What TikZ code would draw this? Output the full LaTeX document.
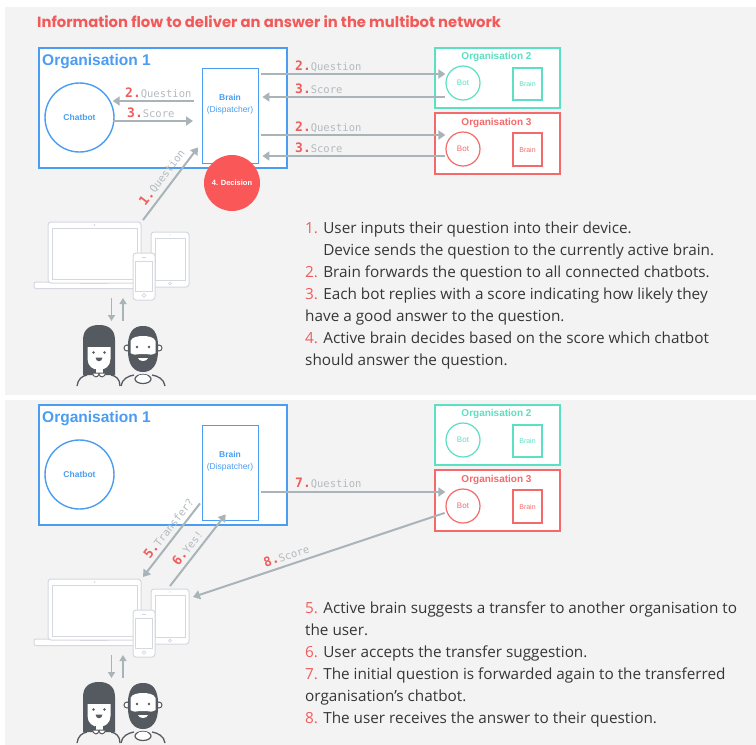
\documentclass[tikz,border=0pt]{standalone}
\usepackage{fontspec}
\setmainfont{Liberation Sans}
\newfontfamily\titlefont{Poppins}
\newfontfamily\monofont{DejaVu Sans Mono}
\newfontfamily\bodyfont{Open Sans}
\usetikzlibrary{arrows.meta,calc}

\definecolor{bgpanel}{HTML}{F3F3F3}
\definecolor{orgblue}{HTML}{4A9DF2}
\definecolor{orgteal}{HTML}{5CDFC2}
\definecolor{orgred}{HTML}{F46A6A}
\definecolor{decred}{HTML}{FA5858}
\definecolor{titlered}{HTML}{F25A5A}
\definecolor{numred}{HTML}{F05C5C}
\definecolor{flowgray}{HTML}{A9B4B9}
\definecolor{labgray}{HTML}{B3BABE}
\definecolor{devgray}{HTML}{D6D8DF}
\definecolor{persongray}{HTML}{545A5F}
\definecolor{textgray}{HTML}{363636}

% label on a flow arrow: red step number, grey monospaced message
\newcommand\flowlabel[2]{{\monofont\bfseries\fontsize{13}{14}\selectfont\color{numred}#1.}{\monofont\fontsize{10.5}{12}\selectfont\color{labgray}#2}}
\newcommand\rednum[1]{\textcolor{numred}{#1}}

% one organisation network: Organisation 1 with chatbot and brain, Organisations 2 and 3
\newcommand\panelbase[1]{%
  \node[orgbox=orgblue, minimum width=248pt, minimum height=120pt] (#1-org1) at (38,47) {};
  \node[anchor=base west, inner sep=0pt, text=orgblue, font=\fontsize{15.5}{18}\selectfont\bfseries] (#1-org1t) at (42,65) {Organisation 1};
  \node[circle, draw=orgblue, line width=1.4pt, fill=white, minimum size=69pt, inner sep=0pt,
        text=orgblue, font=\fontsize{8.5}{10}\selectfont\bfseries] (#1-chat) at (79.5,117.5) {Chatbot};
  \node[draw=orgblue, line width=1.4pt, fill=white, minimum width=56pt, minimum height=95pt,
        anchor=north west, inner sep=0pt] (#1-brain) at (202,68) {};
  \node[align=center, inner sep=0pt, text=orgblue, font=\fontsize{8.5}{12}\selectfont] (#1-braint) at (230,104) {\textbf{Brain}\\(Dispatcher)};
  \node[orgbox=orgteal, minimum width=125pt, minimum height=60pt] (#1-org2) at (434,47) {};
  \node[anchor=base, inner sep=0pt, text=orgteal, font=\fontsize{10}{12}\selectfont\bfseries] (#1-org2t) at (496.5,59.5) {Organisation 2};
  \node[circle, draw=orgteal, line width=1.2pt, minimum size=34pt, inner sep=0pt, text=orgteal,
        font=\fontsize{8}{10}\selectfont] (#1-bot2) at (463,83) {Bot};
  \node[draw=orgteal, line width=1.2pt, minimum width=29pt, minimum height=32pt, inner sep=0pt, text=orgteal,
        font=\fontsize{7}{8}\selectfont] (#1-brn2) at (527.5,84) {Brain};
  \node[orgbox=orgred, minimum width=125pt, minimum height=61pt] (#1-org3) at (434,112) {};
  \node[anchor=base, inner sep=0pt, text=orgred, font=\fontsize{10}{12}\selectfont\bfseries] (#1-org3t) at (496.5,125.5) {Organisation 3};
  \node[circle, draw=orgred, line width=1.2pt, minimum size=34pt, inner sep=0pt, text=orgred,
        font=\fontsize{8}{10}\selectfont] (#1-bot3) at (463,149) {Bot};
  \node[draw=orgred, line width=1.2pt, minimum width=29pt, minimum height=33pt, inner sep=0pt, text=orgred,
        font=\fontsize{7}{8}\selectfont] (#1-brn3) at (527.5,149.5) {Brain};
}

% laptop, tablet and phone
\newcommand\drawdevices[1]{%
  \draw[devline, rounded corners=2pt] (34,282) rectangle (147,288.5);
  \draw[devline] (48,222) rectangle (141,283);
  \draw[devgray, line width=0.8pt] (52,228) rectangle (137,279);
  \fill[devgray] (94.5,225) circle (0.9);
  \draw[devgray, line width=0.8pt] (80,283) -- (108,283);
  \draw[devline] (151,232) rectangle (189,287);
  \draw[devgray, line width=0.8pt] (155,238) rectangle (185,280);
  \draw[devgray, line width=0.7pt] (170,283.5) circle (1.5);
  \fill[devgray] (170,235) circle (0.7);
  \draw[devline] (133,253) rectangle (155,300);
  \draw[devgray, line width=0.8pt] (135.5,261) rectangle (152.5,291);
  \draw[devgray, line width=0.7pt] (144,295.5) circle (1.8);
  \draw[devgray, line width=0.7pt] (142,257) -- (146,257);
  \coordinate (#1-dev) at (143,220);
  \coordinate (#1-tab) at (170,229);
  \coordinate (#1-tabr) at (193,240);
  \coordinate (#1-devd) at (111.5,298);
  \coordinate (#1-pplu) at (111.5,321);
  \coordinate (#1-pplb) at (123,321);
  \coordinate (#1-devu) at (123,298);
}

% the two users
\newcommand\drawwoman{%
  \fill[persongray] (0,50) -- (0,15) .. controls (0,4) and (7,0) .. (16,0)
        .. controls (25,0) and (32,4) .. (32,15) -- (32,50) -- cycle;
  \fill[white] (4.5,22) -- (27.5,22) -- (27.5,34) .. controls (27.5,41) and (22,45) .. (16,45)
        .. controls (10,45) and (4.5,41) .. (4.5,34) -- cycle;
  \fill[persongray] (10.5,27.5) circle (1.4) (21.5,27.5) circle (1.4);
  \fill[persongray] (12.5,32.5) .. controls (13,37.5) and (19,37.5) .. (19.5,32.5) -- cycle;
  \fill[white] (12,44) rectangle (20,50);
  \draw[persongray, line width=1pt] (12,44) -- (12,48) (20,44) -- (20,48);
  \draw[persongray, line width=1pt, fill=white] (9,48) .. controls (11,53) and (15,53) .. (16,49)
        .. controls (17,53) and (21,53) .. (23,48) -- cycle;
  \draw[persongray, line width=1.3pt] (-6,61) .. controls (-5,54) and (-1,51) .. (4,50);
  \draw[persongray, line width=1.3pt] (28,50) .. controls (33,51) and (37,54) .. (37,61);
}
\newcommand\drawman{%
  \draw[persongray, line width=1pt, fill=white] (7,23) circle (3) (39,23) circle (3);
  \fill[persongray] (8,26) .. controls (7,6) and (14,1) .. (23,1) .. controls (32,1) and (39,6) .. (38,26)
        .. controls (38,40) and (32,47) .. (23,47) .. controls (14,47) and (8,40) .. (8,26) -- cycle;
  \fill[white] (10.5,28) -- (10.5,16) .. controls (12,12) and (18,11) .. (23,11)
        .. controls (28,11) and (34,12) .. (35.5,16) -- (35.5,28) .. controls (33,30) and (29,30) .. (26,29)
        -- (20,29) .. controls (17,30) and (13,30) .. (10.5,28) -- cycle;
  \fill[persongray] (17,22) circle (1.4) (29,22) circle (1.4);
  \fill[white] (18,33) .. controls (19,37) and (27,37) .. (28,33) -- cycle;
  \draw[persongray, line width=1.2pt, fill=white] (23,54) ellipse (8 and 4.5);
  \fill[white] (23,52) ellipse (5.5 and 2.5);
  \draw[persongray, line width=1.3pt] (1,61) .. controls (2,54) and (8,51) .. (14,50);
  \draw[persongray, line width=1.3pt] (32,50) .. controls (38,51) and (44,54) .. (45,61);
}
\newcommand\drawpeople{%
  \begin{scope}[shift={(83,325)}]\drawwoman\end{scope}
  \begin{scope}[shift={(120,325)}]\drawman\end{scope}
}

\begin{document}
\begin{tikzpicture}[x=1pt, y=-1pt,
  orgbox/.style={draw=#1, line width=1.6pt, fill=white, anchor=north west, inner sep=0pt, rectangle},
  flow/.style={draw=flowgray, line width=2pt, -{Triangle[length=7pt,width=9pt]}},
  updown/.style={draw=flowgray, line width=1.6pt, -{Triangle[length=6pt,width=7pt]}},
  devline/.style={draw=devgray, line width=1pt, fill=white, rounded corners=3pt},
  desc/.style={anchor=base west, inner sep=0pt, text=textgray, font=\bodyfont\fontsize{15.3}{16}\selectfont},
  numlabel/.style={anchor=base west, inner sep=0pt},
  slopelabel/.style={sloped, above=4pt, inner sep=0pt}]

\useasboundingbox[fill=white] (0,0) rectangle (756,745);
\fill[bgpanel] (5,7) rectangle (756,395);
\fill[bgpanel] (5,400) rectangle (756,745);

\node[anchor=base west, inner sep=0pt, text=titlered, font=\titlefont\bfseries\fontsize{14.8}{16}\selectfont] (title)
  at (37,27) {Information flow to deliver an answer in the multibot network};

% ---------- asking the question ----------
\panelbase{T}
\node[circle, fill=decred, minimum size=56pt, inner sep=0pt, text=white,
      font=\fontsize{7.5}{9}\selectfont\bfseries] (dec) at (232,183) {4. Decision};
\drawdevices{T}
\drawpeople

\draw[flow, shorten <=8pt, shorten >=-2pt] (T-brain.west |- 0,101) -- (T-chat.east |- 0,101);
\draw[flow, shorten <=-2pt, shorten >=9pt] (T-chat.east |- 0,121) -- (T-brain.west |- 0,121);
\draw[flow, shorten <=2pt] (T-brain.east |- 0,74) -- (T-bot2.west |- 0,74);
\draw[flow, shorten >=3pt] (T-bot2.west |- 0,97) -- (T-brain.east |- 0,97);
\draw[flow, shorten <=2pt] (T-brain.east |- 0,135) -- (T-bot3.west |- 0,135);
\draw[flow, shorten >=3pt] (T-bot3.west |- 0,156) -- (T-brain.east |- 0,156);
\draw[flow] (T-dev) -- node[slopelabel, pos=0.5] (l1) {\flowlabel{1}{Question}}
  ($(T-brain.south west)+(-4,-17)$);
\draw[updown] (T-devd) -- (T-pplu);
\draw[updown] (T-pplb) -- (T-devu);

\node[numlabel] (l2a) at (295,70) {\flowlabel{2}{Question}};
\node[numlabel] (l3a) at (295,93) {\flowlabel{3}{Score}};
\node[numlabel] (l2b) at (295,131) {\flowlabel{2}{Question}};
\node[numlabel] (l3b) at (295,152) {\flowlabel{3}{Score}};
\node[numlabel] (l2c) at (125,97) {\flowlabel{2}{Question}};
\node[numlabel] (l3c) at (127,117) {\flowlabel{3}{Score}};

\node[desc] (t1) at (305,233) {\rednum{1.} User inputs their question into their device.};
\node[desc] (t2) at (305,255) {\hphantom{1. }Device sends the question to the currently active brain.};
\node[desc] (t3) at (305,277) {\rednum{2.} Brain forwards the question to all connected chatbots.};
\node[desc] (t4) at (305,299) {\rednum{3.} Each bot replies with a score indicating how likely they};
\node[desc] (t5) at (305,321) {have a good answer to the question.};
\node[desc] (t6) at (305,343) {\rednum{4.} Active brain decides based on the score which chatbot};
\node[desc] (t7) at (305,365) {should answer the question.};

% ---------- transferring the user ----------
\begin{scope}[shift={(0,357)}]
  \panelbase{B}
  \drawdevices{B}
  \drawpeople
\end{scope}

\draw[flow, shorten <=2pt] (B-brain.east |- 0,492) -- (B-bot3.west |- 0,492);
\node[numlabel] (l7) at (295,487) {\flowlabel{7}{Question}};
\draw[flow] ($(B-brain.south west)+(-2,-18)$) -- node[slopelabel, pos=0.42] (l5) {\flowlabel{5}{Transfer?}} (B-dev);
\draw[flow] (B-tab) -- node[slopelabel, pos=0.45] (l6) {\flowlabel{6}{Yes!}} ($(B-brain.south)+(-5,-7)$);
\draw[flow, shorten <=2pt] (B-bot3.201) -- node[slopelabel, pos=0.62] (l8) {\flowlabel{8}{Score}} (B-tabr);
\draw[updown] (B-devd) -- (B-pplu);
\draw[updown] (B-pplb) -- (B-devu);

\node[desc] (t8) at (305,613) {\rednum{5.} Active brain suggests a transfer to another organisation to};
\node[desc] (t9) at (305,635) {the user.};
\node[desc] (t10) at (305,657) {\rednum{6.} User accepts the transfer suggestion.};
\node[desc] (t11) at (305,679) {\rednum{7.} The initial question is forwarded again to the transferred};
\node[desc] (t12) at (305,701) {organisation’s chatbot.};
\node[desc] (t13) at (305,723) {\rednum{8.} The user receives the answer to their question.};
\end{tikzpicture}
\end{document}
